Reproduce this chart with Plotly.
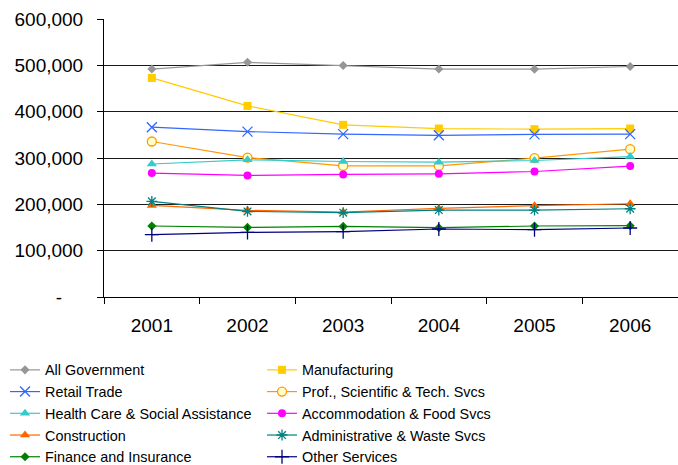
import plotly.graph_objects as go

years = ["2001", "2002", "2003", "2004", "2005", "2006"]

all_government = [492000, 506500, 499500, 492000, 491800, 497500]
manufacturing = [472800, 412500, 371600, 363600, 362200, 363600]
retail_trade = [366500, 357000, 351500, 349000, 351000, 351500]
prof_sci_tech = [335600, 301000, 283000, 283000, 299800, 319000]
health_care = [287000, 296000, 292500, 291000, 294600, 303000]
accommodation = [267500, 262300, 264500, 265900, 270900, 282500]
construction = [197600, 187000, 183500, 191200, 197000, 201300]
administrative = [206300, 184700, 181900, 187700, 187700, 190500]
finance = [153200, 150200, 152400, 149600, 153200, 153900]
other_services = [134500, 139400, 140900, 146800, 145300, 148900]

y_tick_vals = [0, 100000, 200000, 300000, 400000, 500000, 600000]
y_tick_text = ["-\u00a0\u00a0\u00a0\u00a0", "100,000", "200,000", "300,000",
               "400,000", "500,000", "600,000"]

series = [
    ("All Government", all_government, "#969696",
     dict(symbol="diamond", size=7, color="#969696")),
    ("Manufacturing", manufacturing, "#FFCC00",
     dict(symbol="square", size=8, color="#FFCC00")),
    ("Retail Trade", retail_trade, "#3366FF",
     dict(symbol="x-thin", size=10, color="#3366FF",
          line=dict(color="#3366FF", width=1.3))),
    ("Prof., Scientific & Tech. Svcs", prof_sci_tech, "#FF9900",
     dict(symbol="circle", size=9, color="#FFFFCC",
          line=dict(color="#FF9900", width=1.3))),
    ("Health Care & Social Assistance", health_care, "#33CCCC",
     dict(symbol="triangle-up", size=9, color="#33CCCC")),
    ("Accommodation & Food Svcs", accommodation, "#FF00FF",
     dict(symbol="circle", size=8, color="#FF00FF")),
    ("Construction", construction, "#FF6600",
     dict(symbol="triangle-up", size=9, color="#FF6600")),
    ("Administrative & Waste Svcs", administrative, "#008080",
     dict(symbol="asterisk-open", size=9, color="#008080",
          line=dict(color="#008080", width=1.3))),
    ("Finance and Insurance", finance, "#008000",
     dict(symbol="diamond", size=7, color="#008000")),
    ("Other Services", other_services, "#000080",
     dict(symbol="cross-thin-open", size=10, color="#000080",
          line=dict(color="#000080", width=1.3))),
]

fig = go.Figure()
for name, vals, color, marker in series:
    fig.add_trace(go.Scatter(
        x=years, y=vals, name=name, mode="lines+markers",
        line=dict(color=color, width=1.2), marker=marker,
    ))

font_family = "Liberation Sans, Arial, sans-serif"

fig.update_layout(
    width=678, height=465,
    margin=dict(l=104, r=0, t=19, b=168),
    paper_bgcolor="white", plot_bgcolor="white",
    font=dict(family=font_family, color="black", size=19),
    showlegend=True,
    legend=dict(
        orientation="h", xref="container", x=0.0074, xanchor="left",
        yref="container", y=0.2387, yanchor="top",
        entrywidth=212, entrywidthmode="pixels",
        font=dict(size=14.4, family=font_family, color="black"),
        bgcolor="rgba(0,0,0,0)", itemwidth=30, tracegroupgap=0,
    ),
    xaxis=dict(
        type="category", range=[-0.5, 5.5], showgrid=False,
        showline=True, linecolor="black", linewidth=1,
        ticks="outside", tickson="boundaries", ticklen=6, tickcolor="black",
        tickfont=dict(size=19), ticklabelstandoff=11,
        zeroline=False, fixedrange=True,
    ),
    yaxis=dict(
        range=[0, 600000], tickvals=y_tick_vals, ticktext=y_tick_text,
        showgrid=True, gridcolor="#1a1a1a", gridwidth=1,
        showline=True, linecolor="black", linewidth=1,
        ticks="outside", ticklen=6, tickcolor="black",
        tickfont=dict(size=19), ticklabelstandoff=10,
        zeroline=False, fixedrange=True,
    ),
)

fig.write_html("out.html", config={"displayModeBar": False},
               post_script="document.body.style.margin='0';")
